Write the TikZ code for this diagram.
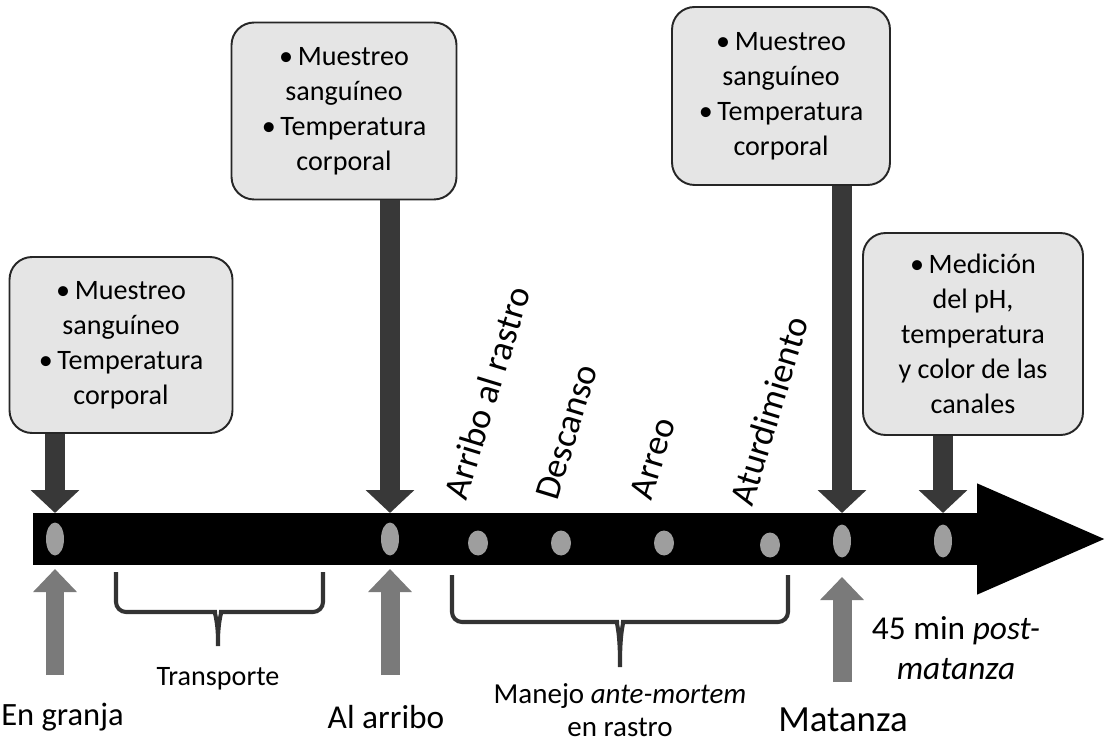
\documentclass[tikz,border=0pt]{standalone}
\usepackage{fontspec}
\setmainfont{Carlito}
\usetikzlibrary{arrows.meta,shapes.geometric}

\tikzset{
  infobox/.style={draw=black!85, fill=black!10, line width=1.1pt, rounded corners=0.45cm,
    align=center, inner sep=2pt, font=\fontsize{16}{20}\selectfont},
  tdot/.style={ellipse, fill=black!38, minimum width=0.36cm, minimum height=0.66cm, inner sep=0pt},
  smalldot/.style={ellipse, fill=black!38, minimum width=0.4cm, minimum height=0.5cm, inner sep=0pt},
  downarrow/.style={draw=black!78, line width=0.4cm, -{Triangle[length=0.46cm,width=0.95cm]}},
  uparrow/.style={draw=black!52, line width=0.38cm, -{Triangle[length=0.46cm,width=0.85cm]}},
  timeline/.style={draw=black, line width=1.04cm, -{Triangle[length=2.66cm,width=2cm]}},
  bracket/.style={draw=black!80, line width=2.3pt, rounded corners=0.2cm},
  steplabel/.style={rotate=73, anchor=south west, inner sep=0pt, font=\fontsize{20.5}{22}\selectfont},
}

\begin{document}
\begin{tikzpicture}[x=0.02cm, y=-0.02cm]
    \useasboundingbox (0,0) rectangle (1112,743);

    % Timeline
    \coordinate (start) at (33,539);
    \coordinate (end) at (1110,539);
    \coordinate (bartop) at (0,513);
    \coordinate (upbase) at (0,675);
    \coordinate (uptip) at (0,569);
    \draw[timeline] (start) -- (end);

    % Points on the timeline
    \node[tdot] (granja) at (55,539) {};
    \node[tdot] (arribo) at (390,539) {};
    \node[smalldot] (rastro) at (478,543) {};
    \node[smalldot] (descanso) at (561,543) {};
    \node[smalldot] (arreo) at (664,543) {};
    \node[smalldot] (aturd) at (770,545) {};
    \node[tdot] (matanza) at (842,541) {};
    \node[tdot] (post) at (943,541) {};

    % Sampling boxes
    \node[infobox, minimum width=4.46cm, minimum height=3.52cm] (box1) at (121,345)
        {\textbullet\,Muestreo\\sanguíneo\\\textbullet\,Temperatura\\corporal};
    \node[infobox, minimum width=4.5cm, minimum height=3.54cm] (box2) at (344,111)
        {\textbullet\,Muestreo\\sanguíneo\\\textbullet\,Temperatura\\corporal};
    \node[infobox, minimum width=4.36cm, minimum height=3.56cm] (box3) at (781,96)
        {\textbullet\,Muestreo\\sanguíneo\\\textbullet\,Temperatura\\corporal};
    \node[infobox, minimum width=4.4cm, minimum height=4.04cm] (box4) at (973,334)
        {\textbullet\,Medición\\del pH,\\temperatura\\y color de las\\canales};

    \draw[downarrow] (granja |- box1.south) -- (granja |- bartop);
    \draw[downarrow] (arribo |- box2.south) -- (arribo |- bartop);
    \draw[downarrow] (matanza |- box3.south) -- (matanza |- bartop);
    \draw[downarrow] (post |- box4.south) -- (post |- bartop);

    % Stages at the slaughterhouse
    \node[steplabel] (l1) at (467,502) {Arribo al rastro};
    \node[steplabel] (l2) at (558,502) {Descanso};
    \node[steplabel] (l3) at (652,502) {Arreo};
    \node[steplabel] (l4) at (753,508) {Aturdimiento};

    % Moments below the timeline
    \draw[uparrow] (granja |- upbase) -- (granja |- uptip);
    \draw[uparrow] (arribo |- upbase) -- (arribo |- uptip);
    \draw[uparrow] (matanza |- 0,682) -- (matanza |- 0,577);

    \node[anchor=west, inner sep=0pt, font=\fontsize{18.5}{22}\selectfont] (engranja) at (1,717) {En granja};
    \node[font=\fontsize{19}{22}\selectfont] (alarribo) at (386,717) {Al arribo};
    \node[font=\fontsize{21}{22}\selectfont] (mat) at (843,720) {Matanza};
    \node[align=center, font=\fontsize{19}{22.5}\selectfont] (postm) at (956,648)
        {45 min \textit{post-}\\\textit{matanza}};

    % Periods
    \draw[bracket] (116,572) |- (205,612) .. controls (214,612) and (218,620) .. (218,652)
        .. controls (218,620) and (222,612) .. (231,612) -| (323,572);
    \node[font=\fontsize{16}{18}\selectfont] (transporte) at (218,679) {Transporte};

    \draw[bracket] (452,575) |- (607,622) .. controls (616,622) and (620,630) .. (620,673)
        .. controls (620,630) and (624,622) .. (633,622) -| (788,575);
    \node[align=center, font=\fontsize{16.5}{18.5}\selectfont] (manejo) at (620,710)
        {Manejo \textit{ante-mortem}\\en rastro};
\end{tikzpicture}
\end{document}
